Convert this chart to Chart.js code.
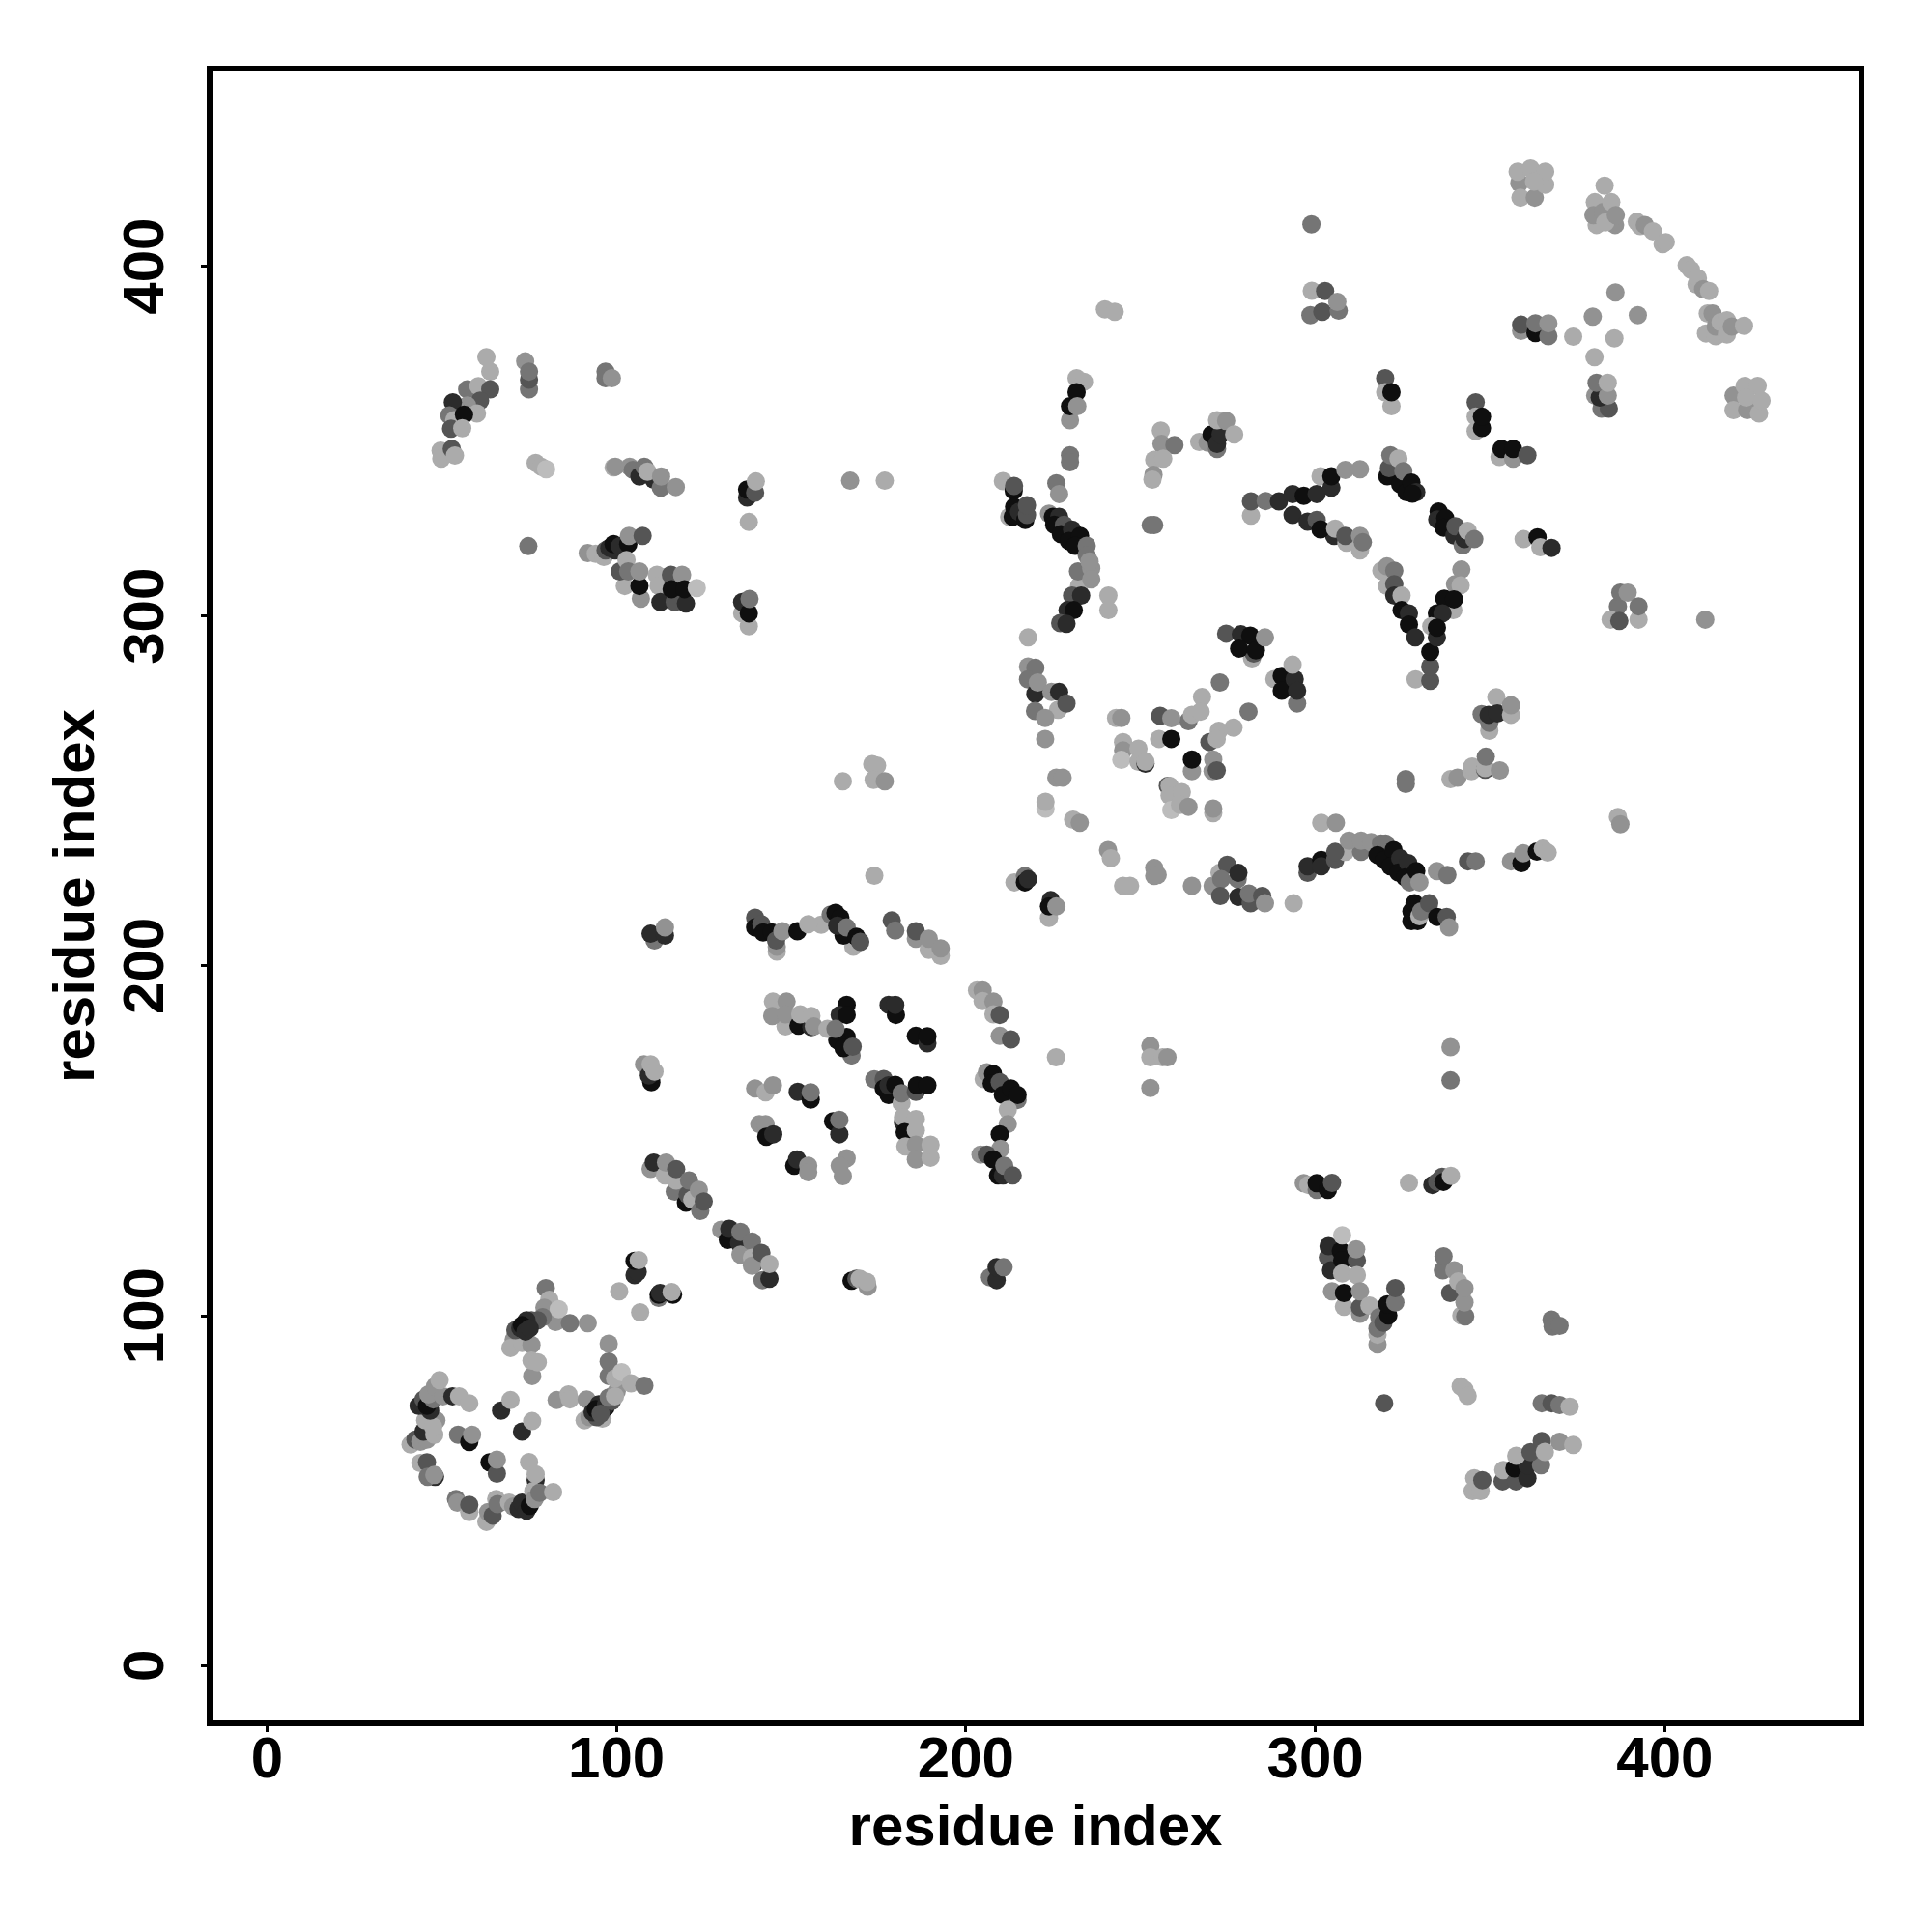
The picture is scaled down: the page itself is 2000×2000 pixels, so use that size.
<!DOCTYPE html>
<html><head><meta charset="utf-8">
<style>html,body{margin:0;padding:0;background:#fff}canvas{display:block}</style>
<script src="https://cdn.jsdelivr.net/npm/chart.js@4/dist/chart.umd.min.js"></script>
</head><body><canvas id="c" width="2000" height="2000"></canvas>
<script>
// Each contact: [residue x, residue y, shade level 0 (darkest) .. 6 (lightest)]
const lowerLeftRing = [
[79.8,107.9,3],[80.8,104.6,5],[79.4,102.3,4],[82.6,98.2,4],[83.5,101.9,6],[86.7,97.9,3],[91.8,97.9,4],
[71.1,95.9,5],[70.6,93.1,4],[69.7,90.8,5],[73,92.2,5],[75.7,91.7,4],[78.9,99.6,3],[77.5,98.7,2],[75.7,98.7,2],[71.1,95.9,2],[72.5,96.5,1],[74.3,98.7,1],[73,97.3,0],[74,95.5,1],[75.2,96.4,1],
[75.9,82.8,4],[75.7,87.2,5],[77.5,86.7,5],
[97.8,92,4],[97.8,86.9,3],[97.8,82.8,3],
[82.9,75.9,4],[86.3,77.5,5],[86.7,76.1,5],[91.5,76.1,4],
[90.9,70.1,5],[92.3,71,4],[96,70.6,5],[94.4,71,2],[95,74.7,1],[96.9,73.8,0],[93.2,72.4,1],[94.1,73.3,0],[95.6,72.5,0],[97,74.5,1],[95.5,72,2],[98.5,76.8,2],[98.7,75.6,2],[97.8,76.6,3],[100.1,78.4,4],[99.6,77,5],[99.6,82.1,5],[101.5,83.9,6],[104.2,80.7,5],[108,80,3],
[41.1,63.2,5],[42.5,64.6,2],[43.9,64,4],[45.8,64.6,4],[44.8,66.9,1],[47.9,66,5],
[45.3,70.1,5],[48.5,70.1,4],[47.6,68.3,5],[43.4,74.3,1],[44.8,74.3,1],[44.8,76.1,2],[46.7,72.9,1],[45.8,74.3,0],[47.6,76.1,3],[46.2,77.5,4],
[48.1,79.8,4],[50.4,77,4],[49.4,81.6,5],[53.1,77,1],[55,77,5],[57.9,75,5],
[54.7,66,3],[57.9,63.9,0],[58.7,66,4],
[43.9,57.9,5],[45.8,58.1,2],[48.1,54,1],[46,54,3],[47.9,54.5,4],
[67,72.9,1],[69.7,75.9,5],[73,66.9,1],[75.9,69.9,5],
[63.7,58.1,0],[65.8,54.9,2],[65.8,58.9,4],[75,58.2,5],[76.9,53.1,1],[76.9,54.7,5],
[54.1,47.6,3],[54.5,46.6,4],[57.9,43.9,5],[57.9,46,2],
[62.8,41.1,5],[63.3,43.9,4],[64.6,42.9,2],[65.6,47.6,5],[66,46.2,3],[69.3,46.6,5],[70.5,45.5,4],
[72,44.8,1],[73,46.6,1],[74.3,44.3,1],[75.2,45.7,0],[76.2,49.9,5],[76.6,47.6,4],[78,49.4,3],[81.9,49.6,5]
];
const diagonalBits = [
[100.8,107,5],[106.8,101,5],[105.2,111.6,1],[106.1,112.5,1],[105.2,115.7,0],[106.4,115.9,5],
[112.1,105.1,3],[112.1,106,0],[112.5,106.5,1],[116.2,106,0],[115.8,106.8,5],
[109.8,142,4],[110.7,143.8,1],[113.9,140.1,5],[114.2,143.8,4],[116.7,135.5,3],[117.1,138.7,5],[117.1,141.9,2],[119.9,132.3,0],[120.4,134.6,2],[120.8,138.7,3],[121.7,133.2,5],[123.6,136,4],[124,130,3],[125,132.7,2],
[130,124.6,4],[131.9,121.7,0],[132.3,124.9,1],[135.1,120.8,1],[135.5,117.5,4],[135.5,124,3],[138.8,121.2,3],[139.5,115,1],[138.8,116.6,5],[138.8,114.3,4],[141.8,110.2,3],[143.8,110.6,1],[141.5,118,2],[143.8,114.8,5],
[167.3,110,0],[168.7,110.6,2],[169.6,110.6,5],[171.9,108.3,4],[171.7,109.7,5],
[206.9,111,3],[208.8,110.2,1],[208.8,113.9,1],[210.8,113.9,3]
];
const centralStrands = [
[110.9,207.3,3],[109.8,209.2,1],[113.9,208.7,1],[113.9,211,4],
[145.9,204.1,5],[145.9,205.5,4],[139.7,213.8,2],[139.7,211,0],[141.5,211.9,2],[142,209.6,0],[144.5,209.6,0],[145.7,207.3,2],[147.5,209.9,4],[151.8,209.9,0],[158.6,211.8,5],[154.9,211.9,5],
[161.3,214.7,3],[162.7,215.2,0],[167.8,205.5,5],[164.1,213.8,0],[165,208.7,0],[163.2,211.5,1],[165.9,211,3],[168.7,208.3,0],[169.8,206.9,2],
[178.8,213,2],[179.8,210.1,3],[185.7,207.8,4],[185.7,209.9,2],[189.4,204.6,5],[189.4,207.8,4],[192.8,202.9,5],[192.8,205,4],
[203.2,193,5],[204.8,193,4],[204.8,190,5],[207.9,189.8,4],[207.9,186.2,5],[209.7,186,2],[209.7,180,4],[212.9,179,2],[225.8,173.9,5],
[144.8,189.8,5],[148.7,189.8,4],[148.4,182.7,5],[144.6,185.7,4],[148.4,186.2,4],[152.1,182.9,0],[155.8,182.5,1],[152.6,186.2,5],[155.8,185.7,5],[156.5,182.7,4],
[165.9,188.9,0],[163.9,186,1],[165.9,186,0],[165.9,179.7,0],[163.2,178.8,0],[160.4,182,5],[162.7,182,3],[167.3,174.4,3],[165,176.5,0],[167.6,176.9,2],
[177.9,188.9,1],[180,186,0],[179.8,188.9,1],[185.7,180,0],[189,177.9,1],[189,179.9,0],
[107.9,171.9,4],[110,166.8,0],[109.3,168.7,1],[109.8,171.9,5],[110.9,169.8,5],
[139.7,165,4],[142.7,163.9,5],[144.8,165.9,4],[151.9,164,1],[155.6,161.8,0],[155.6,163.9,3],
[173.8,167.6,3],[176.5,167.7,2],[176.5,165,0],[177.9,163.1,0],[177.9,165.9,1],[179.8,166,0],[181.6,160.8,5],[181.6,163.6,3],[185.7,164,2],[186,165.9,0],[189,165.9,0],
[182,155.3,1],[182,156.7,5],[185.7,156.2,5],[182.5,152.5,0],[185.7,153,5],[182.7,148.4,5],[185.7,148.9,4],[185.7,144.7,4],[189.9,145.2,5],[189.9,148.9,5],
[205.1,167.7,5],[206,169.6,4],[207.8,169.1,0],[207.4,166.4,0],[209.7,166.8,2],[210.6,163.1,0],[214.8,161.7,3],[212.9,165,0],[214.8,163.1,0],
[212,158.9,5],[212,154.8,4],[209.7,151.9,0],[209.9,147.7,4],
[204.2,146.1,4],[206,146.1,2],[207.8,144.7,0],[209.2,140.1,0],[210.6,140.1,1],[211,142.9,3],[213.4,140.1,2],
[140.9,154.8,4],[142.7,154.8,4],[142.9,151.2,0],[144.9,151.9,1],
[162,155.6,0],[163.8,151.9,1],[163.8,156,3],
[150.9,142.9,0],[151.7,144.7,1],[154.9,142.9,4],[154.9,141,4],
[165.9,145,4],[163.9,142.9,4],[164.8,139.9,4],
[252.8,177.1,4],[252.8,173.9,5],[256.3,173.9,5],[257.7,173.9,4],[252.8,165.1,4],
[164.8,252.8,5],[173.2,257.7,5],[174.6,257.3,5],[173.6,253.2,5],[176.8,252.8,4],
[173.8,225.8,5],[338.7,176.8,4],[338.7,167.3,3]
];
const upperLeftArms = [
[62.8,374,5],[63.9,369.9,5],[57.3,364.8,3],[60.5,365.7,5],[63.9,364.8,2],[61,361.6,2],[57.3,360.2,4],[53.2,361.1,1],[52.2,357.4,3],[53.6,356,5],[60.1,357.9,5],[56.4,357.6,0],[52.7,353.6,2],[55.9,353.7,5],
[49.7,347.3,5],[49.9,345,5],[52.9,347.8,2],[53.8,345.9,5],
[73.9,372.8,4],[75,364.8,3],[75,367.6,2],[75,369.9,3],
[96.9,369.9,3],[96.9,368,3],[98.7,368,4],
[76.9,343.8,5],[78.5,342.7,5],[79.9,342,6],[74.8,320,3],
[99.2,342.5,5],[99.7,342.7,4],[103.8,342.7,4],[104.7,341.8,3],[106.6,339.9,1],[108,342.7,3],[110.7,339,1],[108.9,341.3,5],[112.7,336.7,3],[112.8,339.9,4],[117,336.9,4],
[137.4,333.9,1],[137.4,336.2,0],[139.7,335.3,2],[139.9,338.5,5],[137.9,326.9,5],
[166.9,338.7,4],[176.8,338.7,5],
[91.8,318,4],[94.1,317.8,5],[96.4,316.9,5],[96.9,318.8,2],[98,319.5,1],[99.7,318.8,1],[99.2,320.6,0],[101,320,1],[103.4,320.6,0],[103.6,322.9,4],[107.5,322.9,2],
[102.4,308.6,5],[101,312.8,2],[102.9,316,5],[103.4,312.8,3],[107,305,4],[106.6,308.6,0],[106.6,312.8,4],
[111.6,311.8,5],[112.1,308.6,5],[112.6,304,1],[115.6,311.8,2],[116.7,304,2],[115.8,307.7,0],[119.9,303.6,1],[118.8,311.8,4],[119.5,307.7,0],[123,308,6],
[137.9,297.1,5],[136,300.8,5],[136,304,1],[137.9,300.8,0],[138.1,304.9,3]
];
const middleLoops = [
[231.7,368,5],[233.8,367,5],[231.7,364,0],[229.8,356,4],[229.8,360,0],[231.9,360,4],
[229.8,346,3],[229.8,344,3],
[210.6,338.6,5],[213.7,335.8,0],[213.8,337.2,2],[212.4,328.4,5],[213.4,328.4,0],[213.8,331.2,0],[215.2,329.8,1],[217,327.5,0],[217.5,328.9,2],[217.5,331.7,2],
[225.9,338,3],[226.7,334.9,4],
[223.8,329.3,4],[224.9,328.4,0],[226.7,328.4,1],[225.3,326.1,0],[228.1,326.1,2],[227.2,323.4,0],[230.4,324.7,1],[229.5,321.5,0],[232.7,322.9,0],[231.3,320.1,0],[232.4,308.6,5],[232.1,312.8,3],[234.6,320.1,3],[234.6,317.4,3],[235.9,313.7,4],[235.4,315.6,4],[235.9,310.5,4],
[230.4,305.9,2],[233,305.9,1],[229.1,301.7,1],[230.9,301.7,0],[227,298,2],[228.8,297.8,1],
[240.8,305.9,5],[240.8,301.7,5],[217.8,293.9,5],
[217.8,285.6,4],[219.9,285.2,3],[217.8,281.9,3],[219.9,277.8,1],[220.6,281,4],[224.5,278.3,4],[226.7,278.3,1],[219.8,272.9,3],[226.4,273.2,5],[228.8,275,2],[222.7,270.9,4],[222.7,264.9,4],
[255.8,353,5],[256,349.2,4],[259.7,348.9,3],[253.9,344.7,5],[256.5,345,5],[253.7,340.4,4],[253.4,339,5],[252.9,326,3],[253.9,326,3],
[266.8,349.8,5],[269.2,349.6,4],[271.9,347.8,3],[270.3,351.9,0],[271.9,349.2,1],[272.9,351.9,1],[271.9,356,5],[274.5,355.8,4],[276.8,351.9,5],
[239.8,387.7,5],[242.6,387,5],
[298.9,412,3],[299,393,5],[302.8,392.9,2],[298.6,386,3],[302,387,2],[306.7,387.3,3],[306.3,389.8,4],
[274.5,295,2],[278.7,294.8,1],[281.4,294.4,0],[281.9,287.9,5],[282.4,289.3,2],[278.2,290.7,0],[283,290.2,0],[285.6,293.9,4],
[288.3,282,5],[290.4,282.9,0],[290.4,278.7,0],[294.8,275,3],[294.1,282,1],[294.8,278.7,1],[293.5,286.1,5],
[272.7,281,3],[267.6,276.9,5],[263.7,270,3],[264.7,271.8,5],[267.2,272.7,5],
[280.9,272.7,3],[276.6,268.1,5],[269.7,264,2],[272.4,267.2,5],[271.8,264.9,5],
[243,270.9,5],[244.5,270.9,4],[255.6,271.5,2],[258.8,270.8,4],[255.3,264.9,5],[258.8,264.9,0],
[245,264,5],[245,261.6,4],[244.5,258.9,6],[249.4,262.1,5],[249.4,258.4,5],[251.4,257.8,1],[251.4,258.4,5],
[264.7,255.7,4],[264.7,259,0],[270.6,255.7,4],[270.8,259,4],[271.8,255.9,2],
[225.9,253.8,4],[227.7,253.8,4],[222.8,245,6],[222.8,246.9,5],[230.7,241.8,5],[232.6,240.9,4],
[257.8,251.5,2],[258.3,251.5,5],[258.3,248.7,5],[261.8,249.7,5],[258.8,244.6,6],[261.3,246,5],[263.7,245.5,4],[270.8,243.7,5],[270.8,245,4],
[213.9,223.9,5],[216.9,225.7,3],[216.9,223.9,0],[217.8,224.8,1],[223.8,213.7,5],[224.3,218.8,1],[223.8,217,0],[225.9,217,4],
[240.7,233.1,4],[241.5,230.8,5],[253.9,228,4],[253.9,225.7,4],[254.9,226,4],[245,222.9,5],[247,222.9,5],[264.7,222.9,4],
[270.6,222.9,4],[272.6,226.6,5],[274.8,228.9,2],[273.1,224.8,3],[277.8,224.8,3],[278,226.6,1],[272.8,220,2],[278,219.7,1],[281.5,217.9,2],[281,220.7,3],[284.8,220,2],[285.6,217.9,4],[293.8,217.9,5]
];
const upperRightArms = [
[281.6,328.7,5],[281.6,332.8,2],[285.8,332.9,3],[289.6,332.8,1],[293.5,328.9,1],[293.5,334.9,1],[296.7,334.4,0],[297.8,327,1],[300.4,327.5,2],[301.5,340,5],[300.4,334.9,1],[304.6,336.7,1],[304.6,340,0],[308.6,341.8,4],[312.8,342,4],
[305.4,322.9,1],[301.5,324.8,0],[305.7,325,5],[308.9,321,5],[308.6,322.9,2],[312.8,318.8,5],[312.8,322.9,4],[313.6,321.1,3],
[320,368,2],[320,364,5],[321.8,360,5],[321.8,364,0],
[345.9,361.1,2],[345.9,352.9,5],[345.9,357,5],[347.7,353.8,0],[347.7,357,0],
[352.7,345.5,5],[353.3,347.8,0],[356.6,345,4],[356.6,347.8,0],[360.7,346,2],
[320.6,340,0],[321.1,342.3,2],[321.5,346,3],[323.8,345,5],[324.3,337.7,0],[325.2,341.4,3],[326.1,335.4,0],[327.5,338.2,0],[328.9,335.4,1],[327.8,335,0],
[335.3,329.9,0],[334.9,327.6,1],[337.2,328,0],[336.7,325.3,0],[339.8,323,1],[340.1,325.7,2],[342.2,320.2,3],[342.7,322,1],[343.6,324.4,5],[345.5,322,3],
[359.6,322,5],[363.6,322.5,0],[364.4,319.7,5],[367.6,319.5,1],
[318.9,313,5],[320.5,314.2,4],[322.6,313,3],[320.5,308.6,5],[322.6,309.1,2],[322.6,305.9,1],[324.7,305.9,5],[324.7,301.7,0],[326.8,300.8,1],[326.8,297.6,0],[328.6,293.9,1],
[328.7,281.9,5],[332.9,281.5,2],[332.9,285.6,2],[332.9,289.8,0],
[341.8,313.3,4],[340,309.1,4],[341.6,308.8,5],[339.5,301.7,5],[336.9,305,0],[339.7,304.8,0],[334.8,300.8,0],[336.4,300.8,1],[333.2,297.1,5],[334.8,293.9,1],[334.8,296.7,0],
[386.6,302.8,3],[387.3,306.7,3],[389.4,306.7,4],[392.5,299,5],[392.5,302.8,3],[384.5,299,5],[387,298.6,2],[411.6,299,4],
[351.8,276.8,5],[347.6,272,3],[349.8,267.2,5],[349.8,269.5,3],[349.6,271.8,1],[352.1,272.2,1],[356,271.8,5],[356,274.5,4],
[338.7,253.4,5],[340.7,253.8,4],[344.7,255.7,5],[344.9,257,5],[348.6,256.1,2],[348.6,256.6,5],[348.8,259.8,3],[352.8,255.9,4],
[325.9,253.4,3],[325.9,252,3],
[386.6,242.6,5],[387.3,240.5,4]
];
const helixChain = [
[301.7,240.9,5],[305.9,240.9,4],
[297.8,226.6,2],[297.8,228.5,1],[301.7,230.3,0],[301.7,228.5,1],[305.7,230.3,2],[308.6,232.6,5],[305.7,232.6,2],[313.1,232.6,3],[309.6,235.8,4],[313.1,235.8,4],[316,235.4,4],
[318.8,235,3],[320.1,235,3],[317.8,231.7,0],[319.7,230.3,0],[322.4,233.1,0],[321.5,228.5,0],[324.3,230.8,1],[323.8,226.7,0],[326.6,229.4,1],[325.7,225.3,0],[327,223.9,3],[328.9,227.1,0],[329.8,223.9,4],
[334.8,227.1,4],[337.8,226,3],[343.7,229.9,2],[345.9,229.9,3],
[356,229.9,4],[359,229.4,0],[359.5,232.2,4],[363.4,232.7,0],[365.1,233.5,5],[366.5,232.4,5],
[327.5,212.8,0],[327.5,215.6,0],[328.4,217.9,0],[329.3,212.8,0],[329.8,214.2,5],[330.3,215.6,3],[332.6,217.9,2],[334.9,214,0],[337.6,214,2],[338.3,211,4]
];
const topRightCloud = [
[358.4,423.8,4],[358.7,419.6,5],[362.8,419.6,4],[357.9,427,5],[361.6,427.9,5],[365.8,423.3,5],[365.8,427,5],[362.6,424.2,5],
[382.8,423,5],[380,418.3,5],[380.5,411.8,5],[379.6,414.6,4],[385.8,411.8,4],[382.4,415.5,4],[383,412.5,5],[384.7,418.3,5],[386,414.6,4],
[392,412.7,5],[393,411.5,5],[394.3,411.8,4],[396.6,410,5],[399.4,406.3,5],[400.3,406.9,5],
[406.3,400.3,5],[407.5,399,5],[409.1,394.8,5],[409.5,396.6,5],[411,393.5,4],[412.7,392.9,5],
[411.8,380.8,5],[412.3,386.5,5],[413.7,386.5,4],[414.6,380,5],[414.6,382.8,4],[416,384,5],[417.8,380.5,5],[417.8,384.6,5],[419.2,382.8,4],[422.7,383,5],
[385.9,392.5,4],[379.4,385.6,4],[392.3,386,4],[373.8,379.9,5],[385.6,379.4,5],[379.9,374,5],
[358.9,381.5,4],[358.9,383.3,2],[363,380.9,0],[363,383.7,3],[366.7,380,3],[366.7,383.7,4],
[380.1,363,4],[381.9,359.3,3],[384,359.3,2],[381.4,362.5,1],[383.7,363,4],[380.5,366.7,3],[383.7,366.7,5],
[419.7,363,4],[419.7,358.9,5],[423.6,358.9,4],[427,357.9,5],[422.9,365.8,5],[426.6,365.8,5],[423.3,362.5,5],[427.7,361.6,5]
];
const lowerRightArms = [
[296.7,137.9,4],[298,137.4,5],[300.4,136,3],[300.4,137.9,0],[303.6,136,0],[304.8,138,2],[326.8,138,5],
[333.5,137.4,1],[334.9,138.3,2],[336.3,139.7,2],[336.7,138.3,0],[338.8,140,5],
[303.6,116.7,2],[304.5,113,1],[303.8,119.9,1],[307.3,118.5,0],[307.7,115.8,0],[311.9,115.8,2],[307.7,112.1,5],[311.9,111.6,5],[311.7,119,4],[307.7,123,6],
[304.8,107,4],[308.2,102.6,5],[308.2,106.5,0],[312.8,100.6,4],[312.8,102.4,2],[312.8,107,4],[315.5,102.9,5],
[317.8,91.8,4],[317.8,94.6,5],[317.8,96.4,3],[318.3,99.6,3],[319.5,98,2],[320.9,100.1,0],[320.6,103.3,0],[322.9,103.8,3],[322.9,107.9,2],
[336.5,113,3],[336.7,117,3],[339.8,113,4],[338.6,106.5,2],[340.9,109.8,5],[341.8,100.1,5],[342.9,99.8,3],[342.7,103.8,4],[342.7,107.9,4],
[367.6,98.9,3],[367.9,96.9,3],[369.9,97.1,3],
[319.7,75,2],[341.6,79.8,5],[342.7,78.9,5],[343.6,77.1,5],
[364.8,75,3],[367.6,75,2],[369.9,74.5,3],[372.8,74,5],
[345,49.9,5],[347.3,49.9,5],[345.5,53.6,5],[347.8,53,2],
[353.6,52.7,2],[353.8,55.9,5],[357.4,52.7,2],[357,56.4,0],[360.7,53.6,1],[360.7,57.3,1],[357.5,60,5],[364.6,57.3,3],[361.6,61,2],[364.8,64.2,2],[365.7,61.1,5],[369.9,64,4],[373.8,63.1,5]
];
const tickLabels = ["0","100","200","300","400"];
const axisTitle = "residue index";
const shadeColours = ["#0f0f0f","#2b2b2b","#555555","#757575","#929292","#ababab","#bcbcbc"];

const contacts = [...lowerLeftRing,...diagonalBits,...centralStrands,...upperLeftArms,...middleLoops,...upperRightArms,...helixChain,...topRightCloud,...lowerRightArms];
const font = {family:'"Liberation Sans"',weight:'bold',size:60};
const tickLabelFor = v => tickLabels.includes(String(v)) ? String(v) : '';
const frame = {id:'frame',afterDatasetsDraw(chart){
  const a=chart.chartArea,c=chart.ctx;c.save();c.strokeStyle='#000';c.lineWidth=6;c.lineJoin='miter';
  c.strokeRect(a.left,a.top,a.right-a.left,a.bottom-a.top);c.restore();}};
new Chart(document.getElementById('c'),{
  type:'scatter',
  data:{datasets:[{
    data:contacts.map(p=>({x:p[0],y:p[1]})),
    pointRadius:9.5,pointBorderWidth:0,
    pointBackgroundColor:contacts.map(p=>shadeColours[p[2]])
  }]},
  plugins:[frame],
  options:{
    responsive:false,animation:false,devicePixelRatio:1,
    layout:{padding:{left:0,top:71,right:73,bottom:0}},
    plugins:{legend:{display:false},tooltip:{enabled:false}},
    scales:{
      x:{type:'linear',min:-16.4,max:456.3,
        afterFit(s){s.height=216;},
        border:{display:false},
        grid:{drawOnChartArea:false,tickLength:9,tickColor:'#000',tickWidth:3},
        ticks:{stepSize:100,includeBounds:false,color:'#000',font,padding:-6,maxRotation:0,callback:tickLabelFor},
        title:{display:true,text:axisTitle,color:'#000',font,padding:{top:0,bottom:71}}},
      y:{type:'linear',min:-16.5,max:456.5,
        afterFit(s){s.width=217;},
        border:{display:false},
        grid:{drawOnChartArea:false,tickLength:9,tickColor:'#000',tickWidth:3},
        ticks:{stepSize:100,includeBounds:false,color:'#000',font,padding:5,minRotation:90,maxRotation:90,crossAlign:'center',callback:tickLabelFor},
        title:{display:true,text:axisTitle,color:'#000',font,padding:{top:44,bottom:0}}}
    }
  }
});
</script></body></html>
